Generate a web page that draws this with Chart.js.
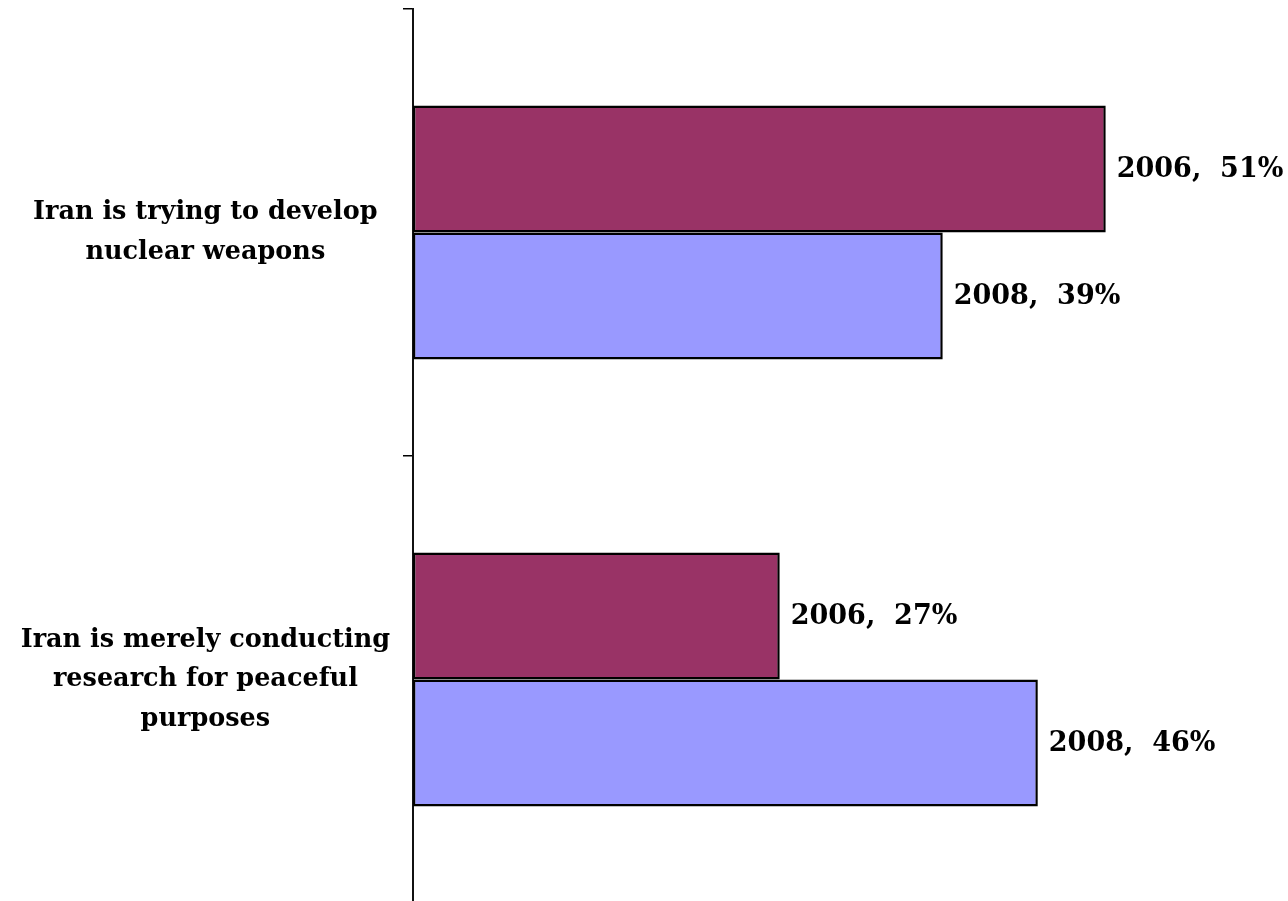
<!DOCTYPE html>
<html>
<head>
<meta charset="utf-8">
<script src="https://cdn.jsdelivr.net/npm/chart.js@4/dist/chart.umd.min.js"></script>
<style>
  html, body { margin: 0; padding: 0; background: #fff; overflow: hidden; }
  #wrap { width: 1288px; height: 912px; position: relative; }
</style>
</head>
<body>
<div id="wrap"><canvas id="c"></canvas></div>
<script>
const categories = [
  ["Iran is trying to develop", "nuclear weapons"],
  ["Iran is merely conducting", "research for peaceful", "purposes"]
];
const seriesNames = ["2006", "2008"];
const values2006 = [51, 27];
const values2008 = [39, 46];
const colors = ["#993366", "#9999FF"];

const FONT = "'DejaVu Serif', 'Liberation Serif', serif";

const labelPlugin = {
  id: 'barLabels',
  afterDatasetsDraw(chart) {
    const ctx = chart.ctx;
    ctx.save();
    ctx.font = "bold 27px " + FONT;
    ctx.fillStyle = "#000";
    ctx.textAlign = "left";
    ctx.textBaseline = "middle";
    chart.data.datasets.forEach((ds, i) => {
      const meta = chart.getDatasetMeta(i);
      meta.data.forEach((bar, j) => {
        ctx.fillText(ds.label + ",  " + ds.data[j] + "%", bar.x + 11, bar.y + 1);
      });
    });
    ctx.restore();
  }
};

new Chart(document.getElementById('c'), {
  type: 'bar',
  data: {
    labels: categories,
    datasets: [
      { label: seriesNames[0], data: values2006, backgroundColor: colors[0], borderColor: "#000", borderWidth: 2.5, borderSkipped: false },
      { label: seriesNames[1], data: values2008, backgroundColor: colors[1], borderColor: "#000", borderWidth: 2.5, borderSkipped: false }
    ]
  },
  options: {
    indexAxis: 'y',
    responsive: true,
    maintainAspectRatio: false,
    animation: false,
    categoryPercentage: 0.568,
    barPercentage: 1.0,
    layout: { padding: { top: 9, bottom: 9, right: 60, left: 0 } },
    plugins: { legend: { display: false }, tooltip: { enabled: false } },
    scales: {
      x: { display: false, min: 0, max: 60 },
      y: {
        afterFit(scale) { scale.width = 413; scale.paddingTop = 0; scale.paddingBottom = 0; },
        grid: { display: true, drawOnChartArea: false, drawTicks: true, tickLength: 10, color: "#000", lineWidth: 1.5, offset: true },
        border: { display: true, color: "#111", width: 2 },
        ticks: {
          color: "#000",
          font: { family: FONT, size: 25.5, weight: 'bold', lineHeight: 1.55 },
          crossAlign: 'center',
          padding: 13
        }
      }
    }
  },
  plugins: [labelPlugin]
});
</script>
</body>
</html>
